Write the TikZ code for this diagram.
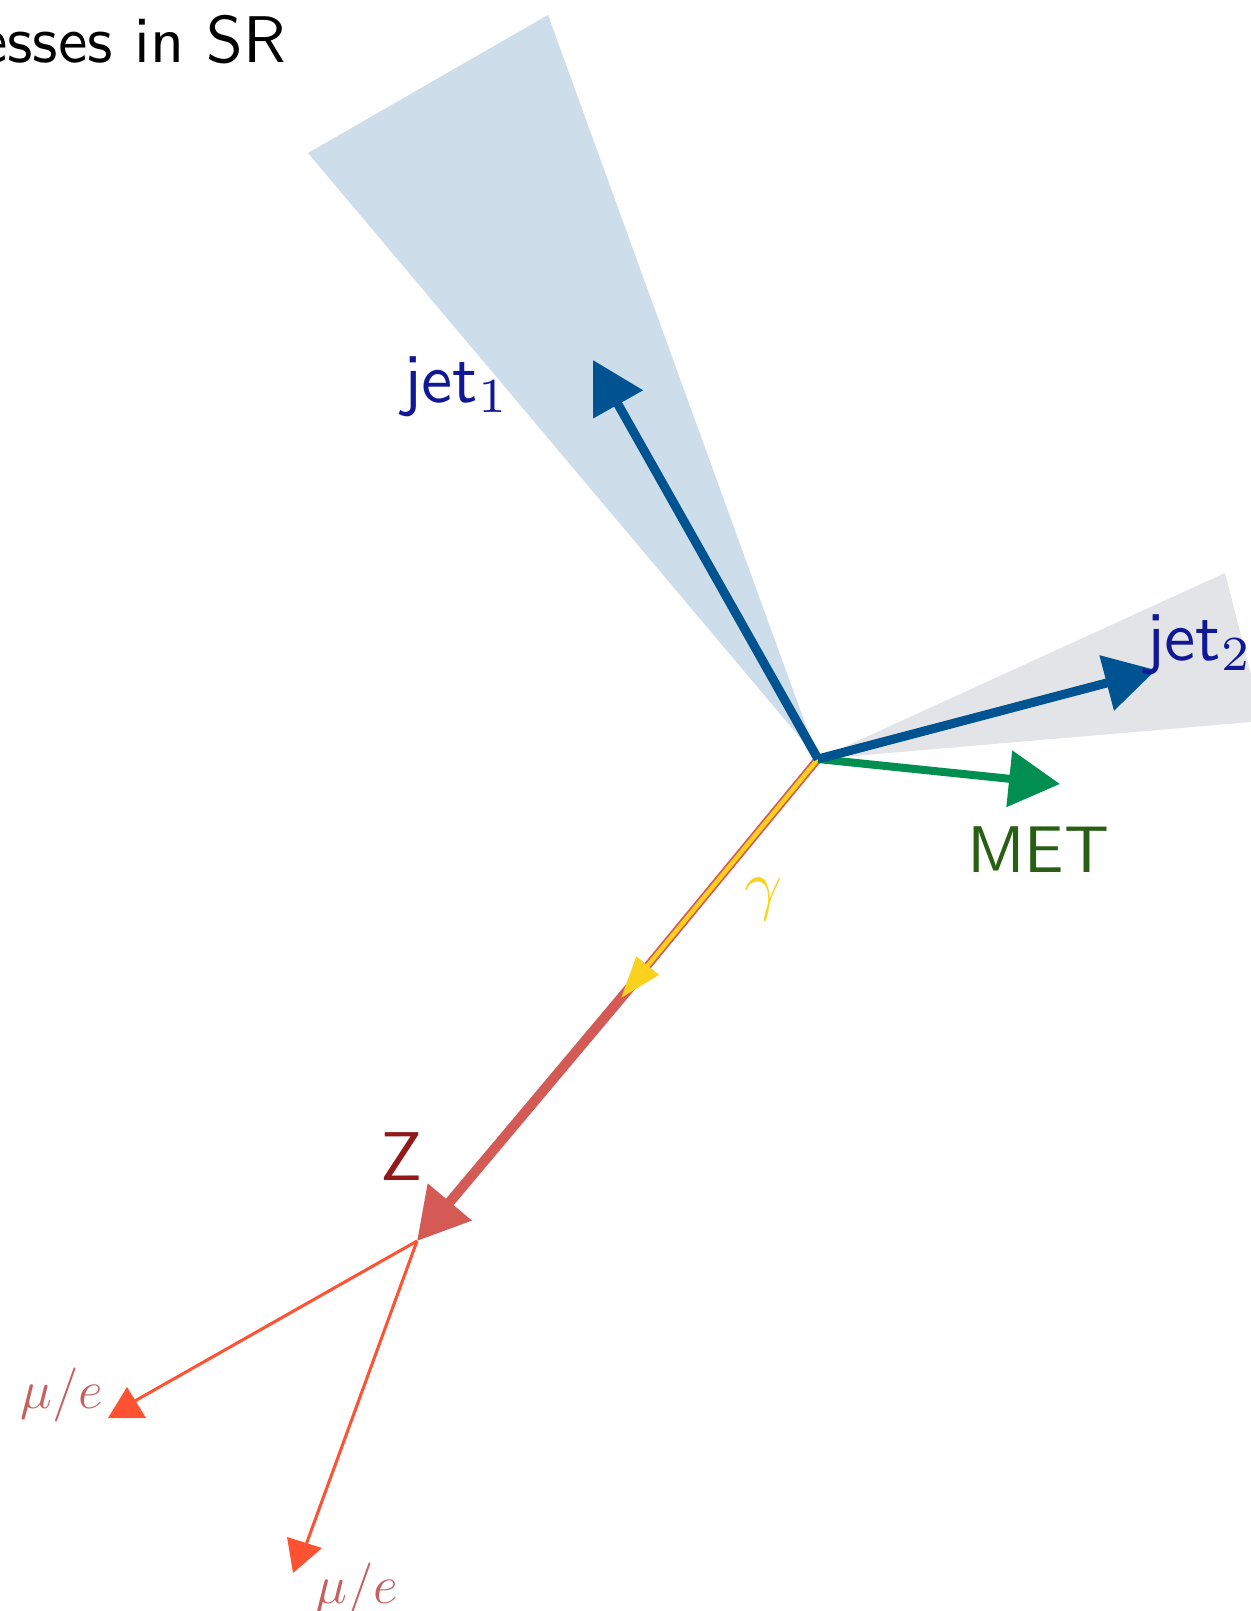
\RequirePackage{fix-cm}
\documentclass[tikz,border=0pt]{standalone}
\usetikzlibrary{arrows.meta}
\definecolor{coneblue}{RGB}{205,221,234}
\definecolor{conegray}{RGB}{226,228,231}
\definecolor{jetblue}{RGB}{0,83,145}
\definecolor{jettext}{RGB}{17,24,150}
\definecolor{metgreen}{RGB}{0,143,80}
\definecolor{mettext}{RGB}{40,95,20}
\definecolor{zred}{RGB}{212,90,86}
\definecolor{ztext}{RGB}{145,25,25}
\definecolor{gammayellow}{RGB}{250,210,30}
\definecolor{lepline}{RGB}{255,82,50}
\definecolor{leptext}{RGB}{200,95,95}
\tikzset{
  bigtip/.style={-{Triangle[length=51pt,width=55pt]}},
  jetarrow/.style={draw=jetblue,line width=9pt,bigtip},
  metarrow/.style={draw=metgreen,line width=8pt,bigtip},
  zarrow/.style={draw=zred,line width=10pt,bigtip},
  photonbed/.style={draw=zred,line width=8pt},
  photon/.style={draw=gammayellow,line width=4.5pt,-{Triangle[length=42pt,width=28pt]}},
  lepton/.style={draw=lepline,line width=3pt},
  leptip/.style={fill=lepline},
  lbl/.style={inner sep=0pt,outer sep=0pt},
}
\newcommand{\sflabel}[2]{\scalebox{#1}{\fontsize{10}{12}\selectfont\sffamily #2}}
\begin{document}
\begin{tikzpicture}[x=1pt,y=-1pt]
\useasboundingbox (0,0) rectangle (1250,1611);
% coordinates
\coordinate (vtx) at (818,759);
\coordinate (c1a) at (308,153);
\coordinate (c1b) at (548,15);
\coordinate (c2a) at (1225,573);
\coordinate (c2b) at (1263,721);
\coordinate (j1tip) at (593,360);
\coordinate (j2tip) at (1156,670);
\coordinate (mettip) at (1060,784);
\coordinate (gtip) at (621,998);
\coordinate (gbase) at (648,966);
\coordinate (ztip) at (417,1241);
\coordinate (l1end) at (133,1402);
\coordinate (l2end) at (303,1553);
% cones
\fill[coneblue] (vtx) -- (c1a) -- (c1b) -- cycle;
\fill[conegray] (vtx) -- (c2a) -- (c2b) -- cycle;
% Z and photon
\draw[zarrow] (gbase) -- (ztip);
\draw[photonbed] (vtx) -- (gtip);
\draw[photon] (vtx) -- (gtip);
% MET
\draw[metarrow] (vtx) -- (mettip);
% jets
\draw[jetarrow] (vtx) -- (j1tip);
\draw[jetarrow] (vtx) -- (j2tip);
% leptons
\draw[lepton] (ztip) -- (l1end);
\draw[lepton] (ztip) -- (l2end);
\fill[leptip] (108,1418) -- (127,1387) -- (146,1418) -- cycle;
\fill[leptip] (287,1537) -- (322,1548) -- (293,1573) -- cycle;
% labels
\node[lbl,anchor=base east] (title) at (286,63) {\sflabel{6.6}{esses in SR}};
\node[lbl,anchor=base west,text=jettext] (jet1) at (403,402) {\sflabel{7}{jet$_1$}};
\node[lbl,anchor=base west,text=jettext] (jet2) at (1146,660) {\sflabel{7}{jet$_2$}};
\node[lbl,anchor=base west,text=mettext] (met) at (967,872) {\sflabel{6.6}{MET}};
\node[lbl,anchor=base west,text=ztext] (zl) at (380,1180) {\sflabel{6.9}{Z}};
\node[lbl,anchor=base,text=gammayellow] (gl) at (764,907) {\fontsize{68}{80}\selectfont$\gamma$};
\node[lbl,anchor=base,text=leptext] (m1) at (62,1408) {\fontsize{54}{64}\selectfont$\mu/e$};
\node[lbl,anchor=base,text=leptext] (m2) at (357,1603) {\fontsize{54}{64}\selectfont$\mu/e$};
\end{tikzpicture}
\end{document}
